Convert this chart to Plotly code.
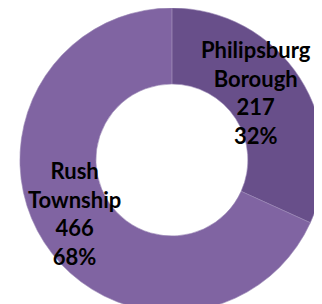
import plotly.graph_objects as go

labels = ["Philipsburg<br>Borough", "Rush<br>Township"]
values = [217, 466]
percents = ["32%", "68%"]
colors = ["#684F8A", "#8064A2"]

fig = go.Figure()
fig.add_trace(go.Pie(
    labels=labels, values=values, hole=0.5, sort=False, direction="clockwise",
    rotation=0, textinfo="none", hoverinfo="label+value+percent",
    marker=dict(colors=colors, line=dict(color="#9a88b5", width=0.6)),
    domain=dict(x=[0.037, 0.981], y=[0.0, 1.0]), showlegend=False,
))

pos = [(248, 85), (66, 205)]
for (lab, v, p), (px, py) in zip(zip(labels, values, percents), pos):
    fig.add_annotation(
        x=px / 322, y=1 - py / 304, xref="paper", yref="paper",
        xanchor="center", yanchor="middle",
        text=f"<b>{lab}<br>{v}<br>{p}</b>", showarrow=False,
        font=dict(family="Lato", size=22, color="black"), align="center",
    )

fig.update_layout(width=322, height=304, margin=dict(l=0, r=0, t=0, b=0),
                  paper_bgcolor="white", plot_bgcolor="white")
fig.write_html("out.html")
